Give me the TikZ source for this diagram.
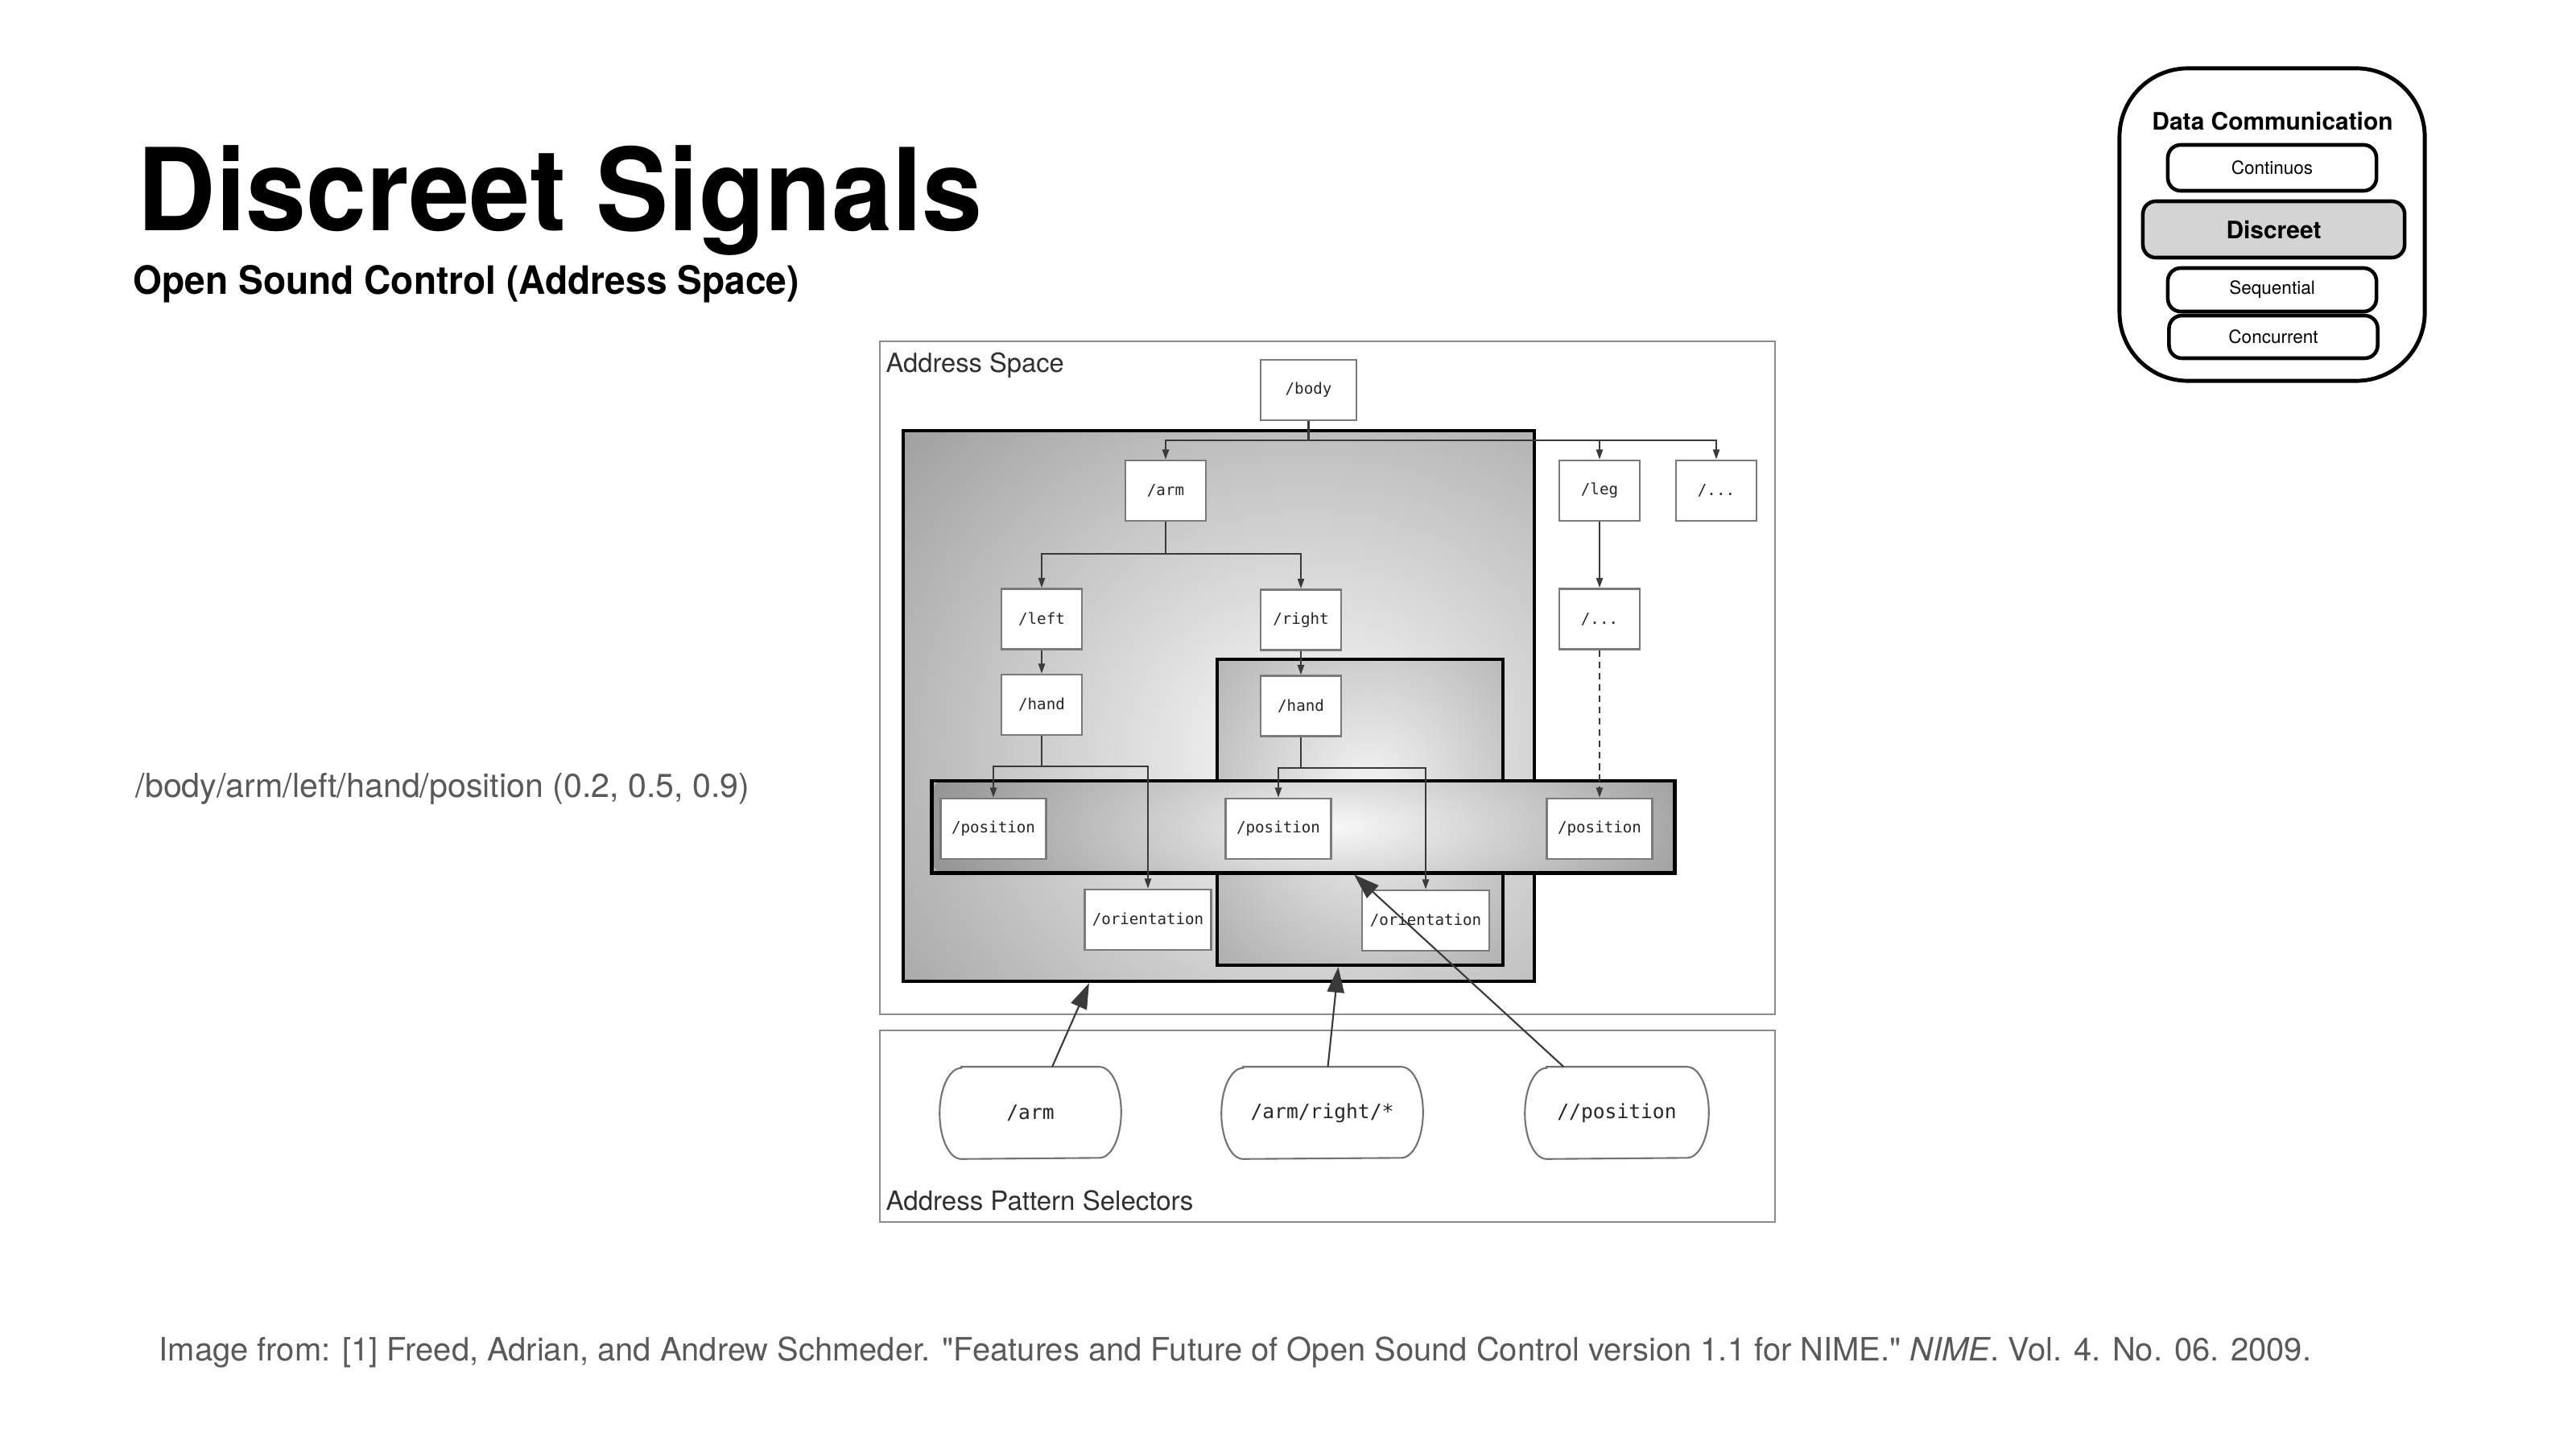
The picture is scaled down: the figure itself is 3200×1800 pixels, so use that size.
\documentclass[tikz,border=0pt]{standalone}
\usepackage{graphicx}
\usepackage{fontspec}
\setmainfont[Ligatures=TeXOff]{TeX Gyre Heros}
\newfontfamily\monof{DejaVu Sans Mono}
\usetikzlibrary{arrows.meta,calc}

\definecolor{slidegray}{HTML}{595959}
\definecolor{lblgray}{HTML}{303030}
\definecolor{boxedge}{HTML}{7A7A7A}
\definecolor{wire}{HTML}{3A3A3A}
\definecolor{framegray}{HTML}{8C8C8C}
\definecolor{badgefill}{HTML}{D4D4D4}

\begin{document}
\begin{tikzpicture}[x=0.01cm,y=-0.01cm,
  leaf/.style={draw=boxedge, line width=0.7pt, fill=white, minimum width=1cm,
    minimum height=0.75cm, inner sep=0pt, text=black!85,
    font=\monof\fontsize{5.45pt}{6.5pt}\selectfont},
  region/.style={draw=black, line width=1.2pt, inner sep=0pt},
  frame/.style={draw=framegray, line width=0.6pt, inner sep=0pt,
    minimum width=11.12cm},
  pill/.style={inner sep=0pt, minimum height=1.13cm, text=black!85,
    font=\monof\fontsize{7pt}{8pt}\selectfont},
  pillline/.style={draw=black!55, line width=0.6pt},
  wire/.style={draw=wire, line width=0.6pt, -{Triangle[length=3.5pt,width=2.3pt]}},
  bigarrow/.style={draw=wire, line width=0.6pt, -{Triangle[length=9pt,width=6pt]}},
  plain/.style={anchor=base west, inner sep=0pt},
  option/.style={draw=black, line width=1.3pt, rounded corners=0.16cm, fill=white,
    minimum width=2.59cm, inner sep=0pt, font=\fontsize{6.4pt}{7.5pt}\selectfont},
]
\useasboundingbox (0,0) rectangle (3200,1800);
\fill[white] (0,0) rectangle (3200,1800);

% ---------- headings and notes ----------
\node[plain, font=\bfseries\fontsize{40.4pt}{44pt}\selectfont] (title) at (170,287)
  {\scalebox{0.95}[1]{Discreet Signals}};
\node[plain, font=\bfseries\fontsize{13.8pt}{16pt}\selectfont] (subtitle) at (165,365)
  {\scalebox{0.95}[1]{Open Sound Control (Address Space)}};
\node[plain, text=slidegray, font=\fontsize{11.7pt}{14pt}\selectfont] (example) at (168,990)
  {/body/arm/left/hand/position (0.2, 0.5, 0.9)};
\node[plain, text=slidegray, font=\fontsize{11.35pt}{14pt}\selectfont] (cite) at (197,1690)
  {Image from: [1] Freed, Adrian, and Andrew Schmeder. "Features and Future of Open Sound Control version 1.1 for NIME." \textit{NIME}. Vol. 4. No. 06. 2009.};

% ---------- outer frames ----------
\node[frame, minimum height=8.36cm] (space) at (1649,842) {};
\node[frame, minimum height=2.38cm] (selectors) at (1649,1399) {};
\node[plain, text=lblgray, font=\fontsize{9.3pt}{11pt}\selectfont] (spaceLbl) at (1100,462) {Address Space};
\node[plain, text=lblgray, font=\fontsize{9.4pt}{11pt}\selectfont] (selLbl) at (1100,1503) {Address Pattern Selectors};

% ---------- shaded selections ----------
\node[region, minimum width=7.84cm, minimum height=6.84cm,
  path picture={\shade[inner color=black!2, outer color=black!40]
    ([shift={(1.1cm,-0.55cm)}]path picture bounding box.center)
    ellipse [x radius=7.3cm, y radius=6.4cm];}] (armSel) at (1514,877) {};
\node[region, minimum width=3.55cm, minimum height=3.8cm,
  path picture={\shade[inner color=black!4, outer color=black!33]
    ([shift={(0.1cm,0.24cm)}]path picture bounding box.center)
    ellipse [x radius=2.8cm, y radius=3.1cm];}] (rightSel) at (1689.5,1009) {};
\node[region, line width=1.4pt, minimum width=9.22cm, minimum height=1.14cm,
  path picture={\shade[inner color=black!3, outer color=black!42]
    ([shift={(0.41cm,0cm)}]path picture bounding box.center)
    ellipse [x radius=5.2cm, y radius=1.8cm];}] (posSel) at (1619,1027) {};

% ---------- address tree ----------
\node[leaf, minimum width=1.19cm] (body) at (1625.5,484.5) {/body};
\node[leaf] (arm)   at (1448,609.5) {/arm};
\node[leaf] (leg)   at (1987,609.5) {/leg};
\node[leaf] (etc1)  at (2132,609.5) {/...};
\node[leaf] (left)  at (1294,769)   {/left};
\node[leaf] (right) at (1616,770)   {/right};
\node[leaf] (etc2)  at (1987,769)   {/...};
\node[leaf] (handL) at (1294,875.5) {/hand};
\node[leaf] (handR) at (1616,877)   {/hand};
\node[leaf, minimum width=1.31cm] (posL) at (1234,1029.5) {/position};
\node[leaf, minimum width=1.31cm] (posM) at (1588,1029.5) {/position};
\node[leaf, minimum width=1.31cm] (posR) at (1987,1029.5) {/position};
\node[leaf, minimum width=1.57cm] (oriL) at (1426,1142.5) {/orientation};
\node[leaf, minimum width=1.58cm] (oriR) at (1771,1143.5) {/orientation};

\draw[wire] (body.south) -- ++(0,24) -| (arm.north);
\draw[wire] (body.south) -- ++(0,24) -| (leg.north);
\draw[wire] (body.south) -- ++(0,24) -| (etc1.north);
\draw[wire] (arm.south) -- ++(0,40) -| (left.north);
\draw[wire] (arm.south) -- ++(0,40) -| (right.north);
\draw[wire] (left.south) -- (handL.north);
\draw[wire] (right.south) -- (handR.north);
\draw[wire] (leg.south) -- (etc2.north);
\draw[wire] (handL.south) -- ++(0,38) -| (posL.north);
\draw[wire] (handL.south) -- ++(0,38) -| (oriL.north);
\draw[wire] (handR.south) -- ++(0,38) -| (posM.north);
\draw[wire] (handR.south) -- ++(0,38) -| (oriR.north);
\draw[wire, dash pattern=on 2.3pt off 1.7pt] (etc2.south) -- (posR.north);

% ---------- pattern selectors ----------
\node[pill, minimum width=2.24cm] (selArm)   at (1280,1382.5)   {/arm};
\node[pill, minimum width=2.49cm] (selRight) at (1642.5,1382.5) {/arm/right/*};
\node[pill, minimum width=2.27cm] (selPos)   at (2008.5,1382.5) {//position};
\foreach \p in {selArm,selRight,selPos}
  \draw[pillline] ([xshift=0.27cm]\p.north west) -- ([xshift=-0.27cm]\p.north east)
    arc[start angle=90, end angle=-90, x radius=0.27cm, y radius=0.565cm]
    -- ([xshift=0.27cm]\p.south west)
    arc[start angle=270, end angle=90, x radius=0.27cm, y radius=0.565cm] -- cycle;

\draw[bigarrow] ([xshift=0.27cm]selArm.north) -- ([xshift=-1.61cm]armSel.south);
\draw[bigarrow] ([xshift=0.07cm]selRight.north) -- ([xshift=-0.27cm]rightSel.south);
\draw[bigarrow] ([xshift=-0.66cm]selPos.north) -- ([xshift=0.63cm]posSel.south);

% ---------- topic badge ----------
\node[draw=black, line width=1.4pt, rounded corners=0.85cm, minimum width=3.79cm,
  minimum height=3.88cm, inner sep=0pt] (badge) at (2822.5,279) {};
\node[anchor=base, inner sep=0pt, font=\bfseries\fontsize{8.5pt}{10pt}\selectfont]
  (badgeTitle) at (2823,162) {Data Communication};
\node[option, minimum height=0.57cm] (cont) at (2822.5,208.5) {Continuos};
\node[option, minimum width=3.25cm, minimum height=0.7cm, fill=badgefill,
  font=\bfseries\fontsize{8.5pt}{10pt}\selectfont] (disc) at (2824.5,285) {Discreet};
\node[option, minimum height=0.54cm] (seq) at (2822.5,360) {Sequential};
\node[option, minimum height=0.53cm] (conc) at (2824,418.5) {Concurrent};
\end{tikzpicture}
\end{document}
